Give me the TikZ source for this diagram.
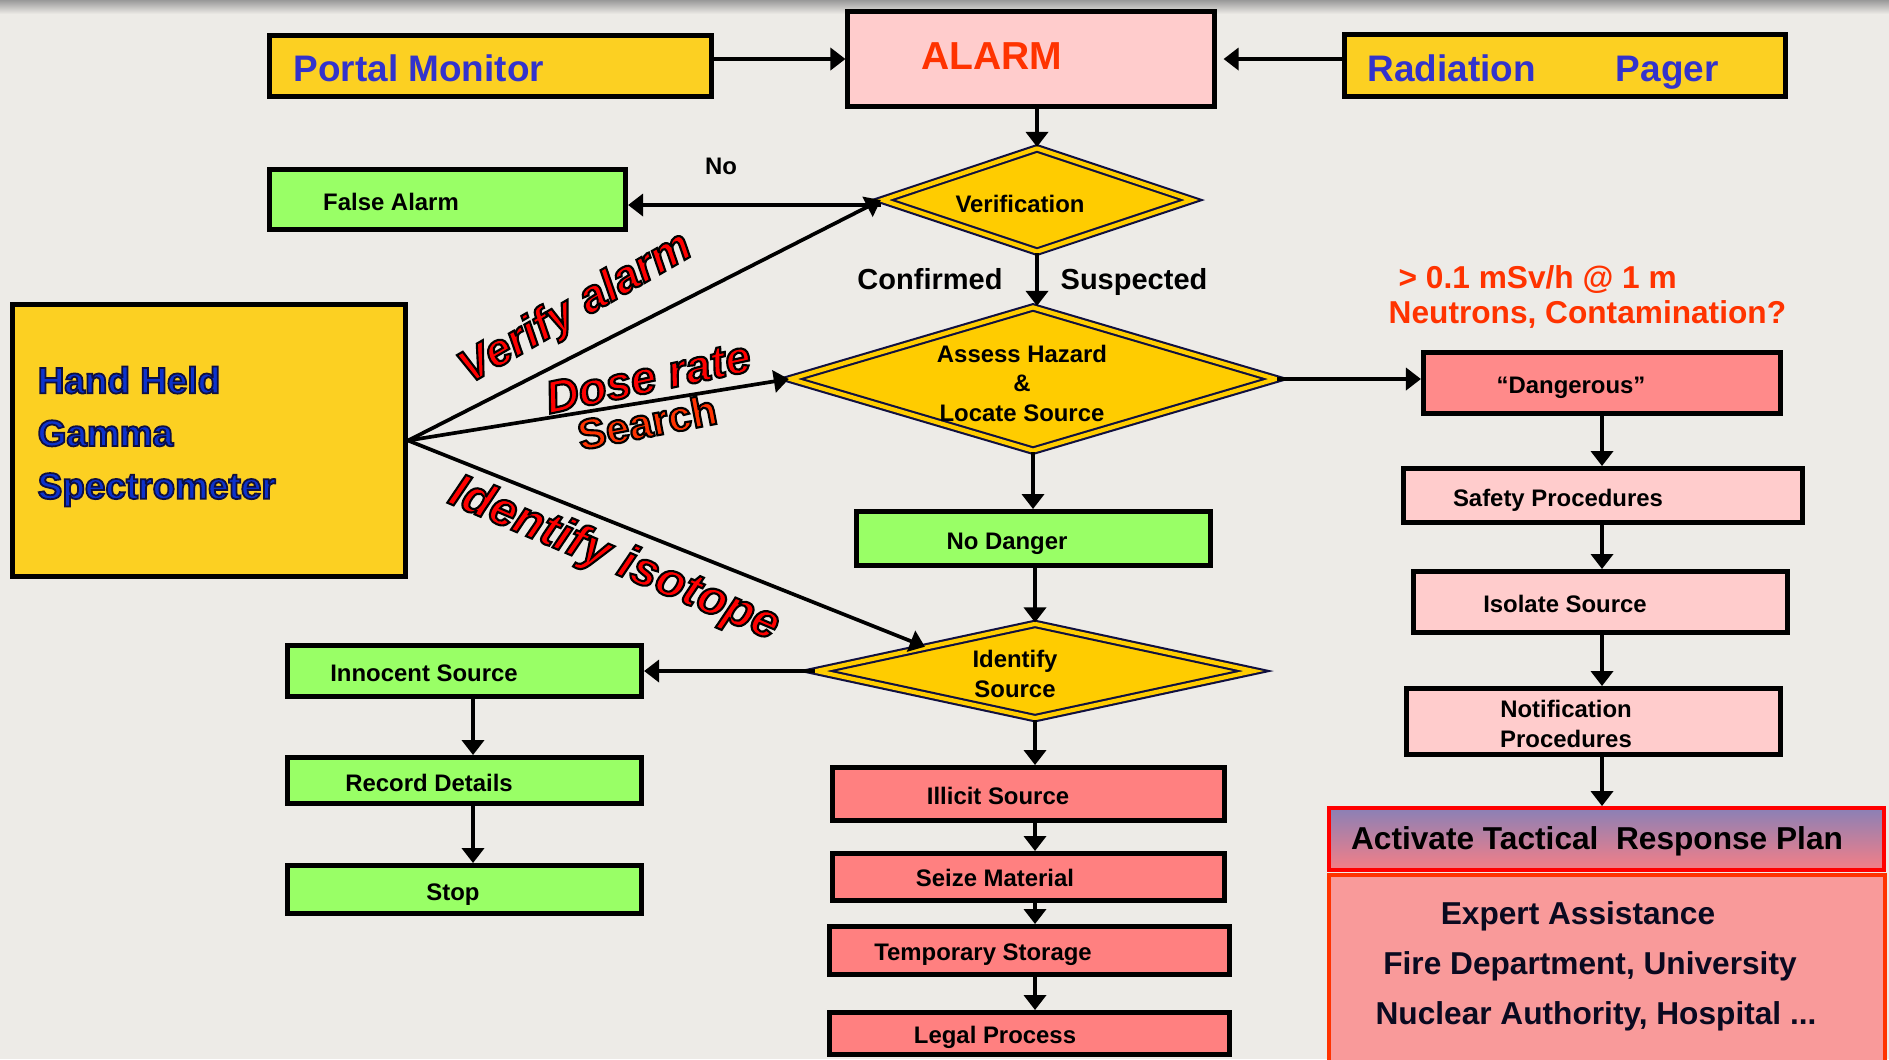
\documentclass[tikz,border=0pt]{standalone}
\usepackage{fontspec}
\setmainfont{Liberation Sans}
\usetikzlibrary{arrows.meta, shapes.geometric, positioning}

\definecolor{bgcol}{HTML}{EDEBE7}
\definecolor{goldfill}{HTML}{FCD022}
\definecolor{diafill}{HTML}{FFCC00}
\definecolor{greenfill}{HTML}{99FF66}
\definecolor{pinkfill}{HTML}{FFCCCC}
\definecolor{salmonfill}{HTML}{FF8080}
\definecolor{dangerfill}{HTML}{FF8A8A}
\definecolor{expertfill}{HTML}{F99A9A}
\definecolor{titleblue}{HTML}{3333CC}
\definecolor{deepblue}{HTML}{0D33CC}
\definecolor{shadownavy}{HTML}{101040}
\definecolor{alarmred}{HTML}{FF3300}
\definecolor{planblue}{HTML}{8A80B6}
\definecolor{planred}{HTML}{F57F86}
\definecolor{darkink}{HTML}{0A0A20}

% filled text with a stroked rim: #1 rim colour (rgb), #2 rim width, #3 text
\newcommand\rimmed[3]{\special{pdf:literal direct #1 RG #2 w 2 Tr}#3\special{pdf:literal direct 0 Tr}}

\tikzset{
	box/.style={draw=black, line width=1.4pt, inner sep=0pt},
	goldbox/.style={box, fill=goldfill},
	greenbox/.style={box, fill=greenfill},
	pinkbox/.style={box, fill=pinkfill},
	salmonbox/.style={box, fill=salmonfill},
	decision/.style={diamond, aspect=3, inner sep=0pt, fill=diafill,
			draw=shadownavy, line width=0.6pt, double=diafill, double distance=1.2pt}
}
\tikzset{
	capmid/.style={text height=#1, text depth=0pt},
	boxtext/.style={font=\fontsize{6.8}{8.4}\selectfont\bfseries, inner sep=0pt, align=center},
	onetext/.style={boxtext, capmid=4.9pt},
	bigtext/.style={font=\fontsize{10.5}{15}\selectfont\bfseries, inner sep=0pt},
	notetext/.style={font=\fontsize{9}{10}\selectfont\bfseries, text=alarmred, inner sep=0pt, capmid=6.45pt},
	steplabel/.style={font=\fontsize{13}{15}\selectfont\bfseries\itshape, text=red, inner sep=0pt},
	arr/.style={line width=1.05pt, -{Triangle[length=0.15cm, width=0.22cm]}}
}

\begin{document}
\begin{tikzpicture}[x=0.01cm, y=-0.01cm]

	\useasboundingbox (0,0) rectangle (1889,1059);
	\clip (0,0) rectangle (1889,1059);
	\fill[bgcol] (0,0) rectangle (1889,1059);
	\shade[top color=black!40, bottom color=bgcol] (0,0) rectangle (1889,14);

	% alarm sources
	\node[goldbox, minimum width=4.42cm, minimum height=0.61cm] (portal) at (490.5,66) {};
	\node[bigtext, capmid=7.5pt, text=titleblue, anchor=west] (portaltxt) at (293,68.5) {Portal Monitor};
	\node[pinkbox, minimum width=3.66cm, minimum height=0.95cm] (alarm) at (1031,59) {};
	\node[font=\fontsize{11.1}{13}\selectfont\bfseries, text=alarmred, inner sep=0pt, capmid=7.95pt] (alarmtxt) at (992,56) {ALARM};
	\node[goldbox, minimum width=4.41cm, minimum height=0.62cm] (pager) at (1565,65.5) {};
	\node[bigtext, capmid=7.5pt, text=titleblue, anchor=west] (pagertxt) at (1367,68.5) {Radiation\hspace{0.8cm}Pager};

	\node[goldbox, minimum width=3.93cm, minimum height=2.72cm] (hand) at (209,440.5) {};
	\node[bigtext, text=deepblue, anchor=west, align=left] (handtxt) at (37,436.5)
	{\rimmed{0.06 0.06 0.25}{0.5}{Hand Held}\\\rimmed{0.06 0.06 0.25}{0.5}{Gamma}\\\rimmed{0.06 0.06 0.25}{0.5}{Spectrometer}};

	% verification
	\node[decision, minimum width=3.10cm, minimum height=1.04cm] (verif) at (1037,200) {};
	\node[onetext] (veriftxt) at (1020,204) {Verification};
	\node[greenbox, minimum width=3.56cm, minimum height=0.60cm] (falsealarm) at (447.5,199.5) {};
	\node[onetext] (falsetxt) at (391,201.5) {False Alarm};
	\node[onetext] (nolbl) at (721,166) {No};
	\node[font=\fontsize{8.25}{10}\selectfont\bfseries, inner sep=0pt, capmid=5.9pt] (confirmedlbl) at (930,279) {Confirmed};
	\node[font=\fontsize{8.25}{10}\selectfont\bfseries, inner sep=0pt, capmid=5.9pt] (suspectedlbl) at (1134,279) {Suspected};

	% hazard
	\node[decision, minimum width=4.86cm, minimum height=1.44cm] (assess) at (1033,379) {};
	\node[boxtext] (assesstxt) at (1022,383) {Assess Hazard\\\&\\Locate Source};
	\node[notetext, anchor=west] (dosenote) at (1398,277) {> 0.1 mSv/h @ 1 m};
	\node[notetext, anchor=west] (neutronnote) at (1388,312) {Neutrons, Contamination?};

	\node[box, fill=dangerfill, minimum width=3.57cm, minimum height=0.61cm] (dangerous) at (1602,383) {};
	\node[onetext] (dangtxt) at (1571,385) {“Dangerous”};
	\node[pinkbox, minimum width=3.99cm, minimum height=0.54cm] (safety) at (1603,495.5) {};
	\node[onetext] (safetytxt) at (1558,498) {Safety Procedures};
	\node[pinkbox, minimum width=3.74cm, minimum height=0.61cm] (isolate) at (1600.5,602) {};
	\node[onetext] (isolatetxt) at (1565,604) {Isolate Source};
	\node[pinkbox, minimum width=3.74cm, minimum height=0.66cm] (notif) at (1593.5,721.5) {};
	\node[boxtext] (notiftxt) at (1566,724) {Notification\\Procedures};

	\node[draw=red, line width=1.1pt, top color=planblue, bottom color=planred,
		minimum width=5.55cm, minimum height=0.62cm, inner sep=0pt] (plan) at (1606.5,839) {};
	\node[font=\fontsize{9}{10}\selectfont\bfseries, inner sep=0pt, capmid=6.45pt] (plantxt) at (1597,838) {Activate Tactical\ \ Response Plan};
	\node[draw=alarmred, line width=1.1pt, fill=expertfill, minimum width=5.56cm,
		minimum height=2.3cm, inner sep=0pt] (expert) at (1607,990) {};
	\node[font=\fontsize{9}{14.2}\selectfont\bfseries, text=darkink, align=center, inner sep=0pt] (experttxt) at (1590,966)
	{Expert Assistance\hspace*{0.24cm}\\Fire Department, University\\\hspace*{0.12cm}Nuclear Authority, Hospital ...};

	% identification
	\node[greenbox, minimum width=3.54cm, minimum height=0.54cm] (nodanger) at (1033.5,538.5) {};
	\node[onetext] (nodangertxt) at (1007,541) {No Danger};
	\node[decision, minimum width=4.38cm, minimum height=0.95cm] (identify) at (1035,671) {};
	\node[boxtext] (identifytxt) at (1015,674) {Identify\\Source};

	\node[greenbox, minimum width=3.54cm, minimum height=0.51cm] (innocent) at (464.5,671) {};
	\node[onetext] (innocenttxt) at (424,673) {Innocent Source};
	\node[greenbox, minimum width=3.54cm, minimum height=0.46cm] (record) at (464.5,780.5) {};
	\node[onetext] (recordtxt) at (429,783) {Record Details};
	\node[greenbox, minimum width=3.54cm, minimum height=0.48cm] (stop) at (464.5,889.5) {};
	\node[onetext] (stoptxt) at (453,892) {Stop};

	\node[salmonbox, minimum width=3.92cm, minimum height=0.53cm] (illicit) at (1028.5,794) {};
	\node[onetext] (illicittxt) at (998,796) {Illicit Source};
	\node[salmonbox, minimum width=3.92cm, minimum height=0.47cm] (seize) at (1028.5,877) {};
	\node[onetext] (seizetxt) at (995,878) {Seize Material};
	\node[salmonbox, minimum width=4.00cm, minimum height=0.48cm] (storage) at (1029.5,950.5) {};
	\node[onetext] (storagetxt) at (983,952) {Temporary Storage};
	\node[salmonbox, minimum width=4.00cm, minimum height=0.42cm] (legal) at (1029.5,1033.5) {};
	\node[onetext] (legaltxt) at (995,1035) {Legal Process};

	% connectors
	\draw[arr] (portal.east |- alarm.west) -- (alarm.west);
	\draw[arr, shorten >=0.07cm] (pager.west |- alarm.east) -- (alarm.east);
	\draw[arr] (alarm.south -| verif.north) -- (verif.north);
	\draw[arr] ([yshift=-0.05cm]verif.west) -- ([yshift=-0.05cm]falsealarm.east |- verif.west);
	\draw[arr] (verif.south) -- (verif.south |- assess.north);
	\draw[arr] (assess.east) -- (dangerous.west |- assess.east);
	\draw[arr] (assess.south) -- (assess.south |- nodanger.north);
	\draw[arr] (nodanger.south -| identify.north) -- (identify.north);
	\draw[arr] (identify.west) -- (innocent.east |- identify.west);
	\draw[arr] ([xshift=0.085cm]innocent.south) -- ([xshift=0.085cm]record.north);
	\draw[arr] ([xshift=0.085cm]record.south) -- ([xshift=0.085cm]stop.north);
	\draw[arr] (identify.south) -- (identify.south |- illicit.north);
	\draw[arr] (illicit.south -| identify.south) -- (identify.south |- seize.north);
	\draw[arr] (seize.south -| identify.south) -- (identify.south |- storage.north);
	\draw[arr] (storage.south -| identify.south) -- (identify.south |- legal.north);
	\draw[arr] (dangerous.south) -- (dangerous.south |- safety.north);
	\draw[arr] (safety.south -| dangerous.south) -- (dangerous.south |- isolate.north);
	\draw[arr] (isolate.south -| dangerous.south) -- (dangerous.south |- notif.north);
	\draw[arr] (notif.south -| dangerous.south) -- (dangerous.south |- plan.north);

	\draw[arr] (hand.east) -- (verif.west);
	\draw[arr] (hand.east) -- (assess.west);
	\draw[arr] (hand.east) -- (identify.north west);

	% instrument tasks
	\node[steplabel, rotate=30] (verifylbl) at (576,309) {\rimmed{0 0 0}{0.6}{Verify alarm}};
	\node[steplabel, rotate=12] (doselbl) at (648,377) {\rimmed{0 0 0}{0.6}{Dose rate}};
	\node[steplabel, text=alarmred, font=\fontsize{12}{14}\selectfont\bfseries, rotate=11] (searchlbl) at (647,422) {\rimmed{0 0 0}{0.6}{Search}};
	\node[steplabel, font=\fontsize{13.6}{15}\selectfont\bfseries\itshape, rotate=-23] (isotopelbl) at (614,560) {\rimmed{0 0 0}{0.6}{Identify isotope}};

\end{tikzpicture}
\end{document}
